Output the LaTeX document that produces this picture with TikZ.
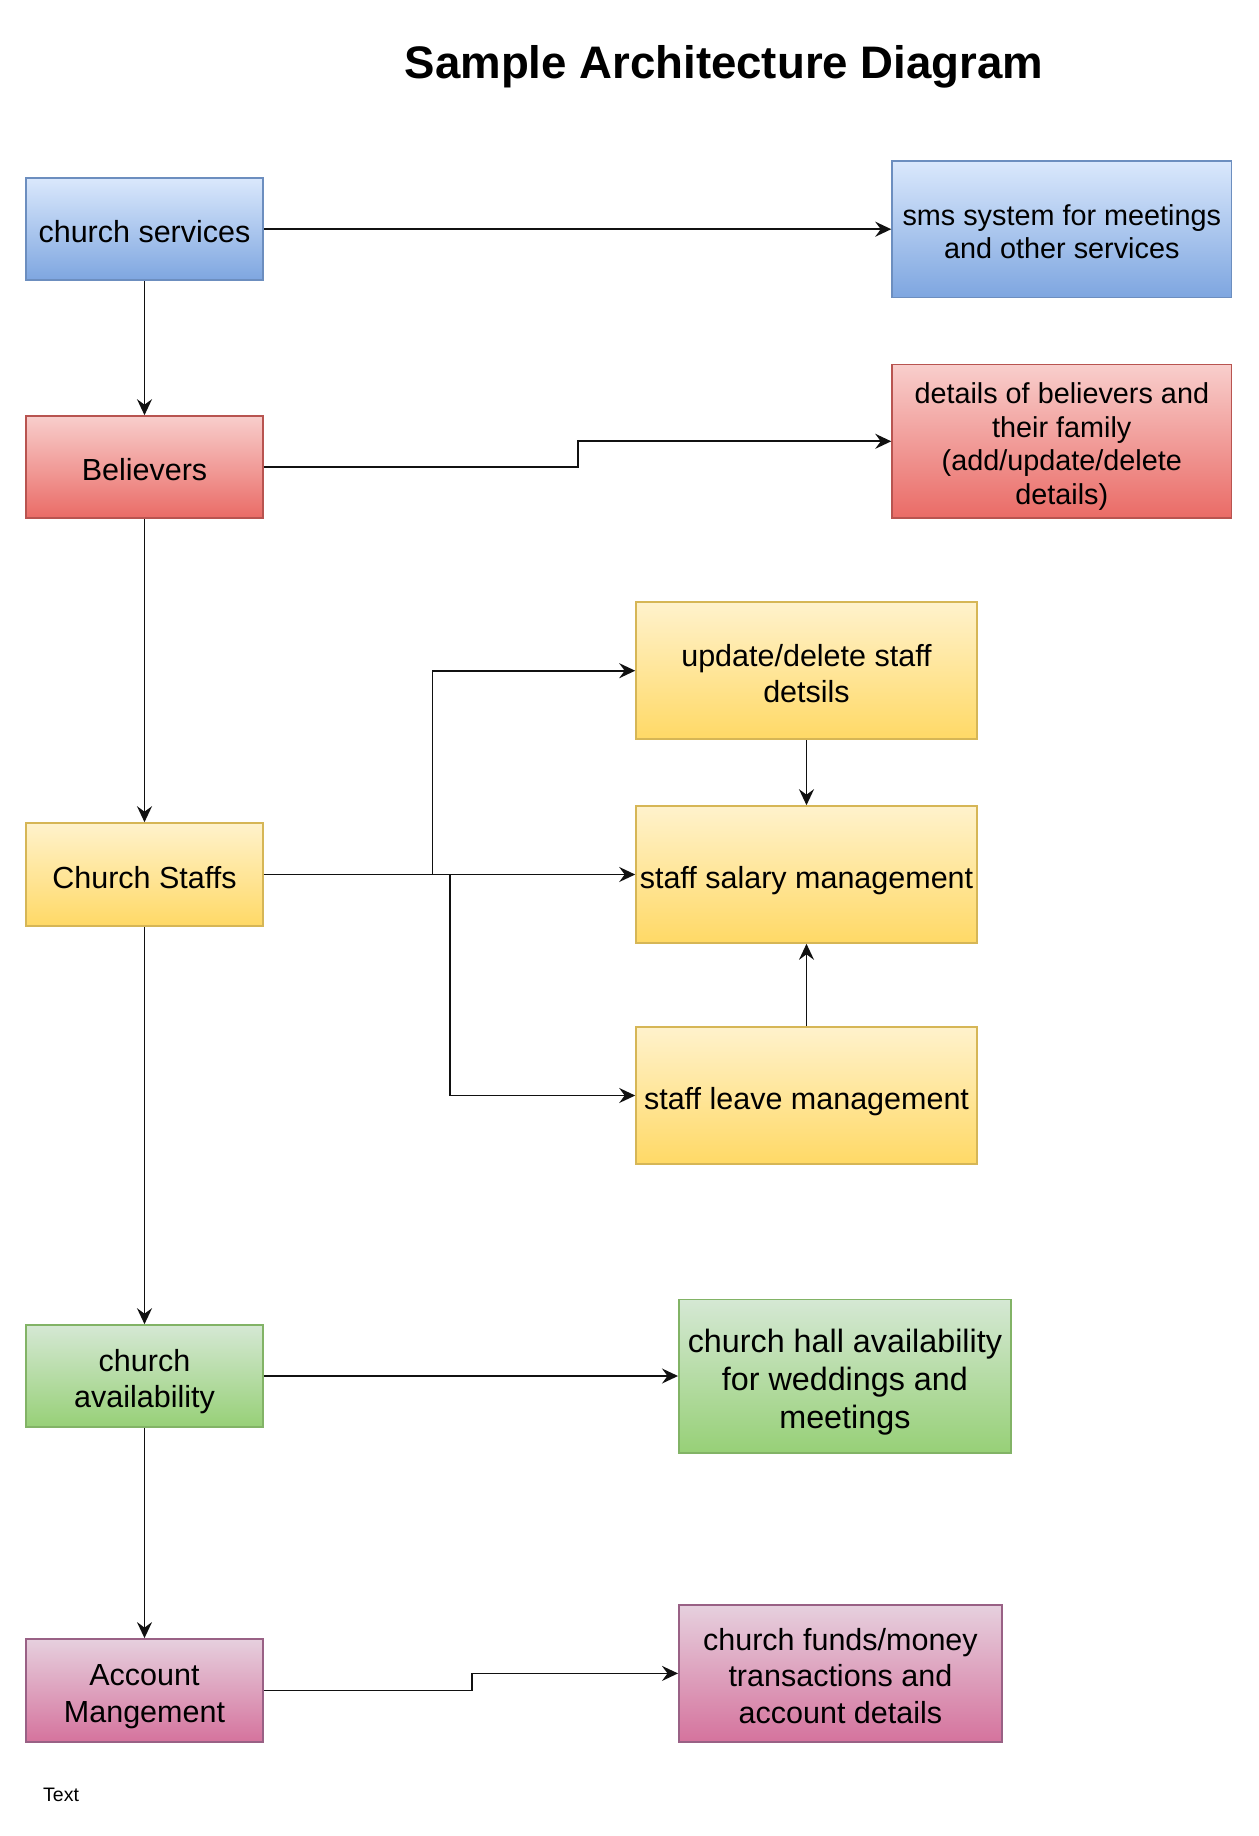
\documentclass[tikz,border=0pt]{standalone}
\usepackage{fontspec}
\setmainfont{Liberation Sans}
\usetikzlibrary{arrows.meta}
\definecolor{bluetop}{HTML}{DAE8FC}\definecolor{bluebot}{HTML}{7EA6E0}\definecolor{bluedraw}{HTML}{6C8EBF}
\definecolor{redtop}{HTML}{F8CECC}\definecolor{redbot}{HTML}{EA6B66}\definecolor{reddraw}{HTML}{B85450}
\definecolor{yeltop}{HTML}{FFF2CC}\definecolor{yelbot}{HTML}{FFD966}\definecolor{yeldraw}{HTML}{D6B656}
\definecolor{grntop}{HTML}{D5E8D4}\definecolor{grnbot}{HTML}{97D077}\definecolor{grndraw}{HTML}{82B366}
\definecolor{pnktop}{HTML}{E6D0DE}\definecolor{pnkbot}{HTML}{D5739D}\definecolor{pnkdraw}{HTML}{996185}
\definecolor{edgec}{HTML}{111111}
% \rule[raise]{width}{total height}: struts from -0.21em up to 0.953em (other lines) / 1.1em (first line)
\newcommand\ls{\rule[-0.21em]{0pt}{1.163em}}
\newcommand\lf{\rule[-0.21em]{0pt}{1.31em}}
\begin{document}
\begin{tikzpicture}[x=1pt,y=-1pt,
  box/.style={rectangle, line width=1.6pt, align=center, inner sep=0pt,
    font=\fontsize{30.5}{35.47}\selectfont, text=black},
  smallf/.style={font=\fontsize{28.8}{33.5}\selectfont},
  bigf/.style={font=\fontsize{32.3}{37.57}\selectfont},
  bluebox/.style={box, draw=bluedraw, top color=bluetop, bottom color=bluebot},
  redbox/.style={box, draw=reddraw, top color=redtop, bottom color=redbot},
  yelbox/.style={box, draw=yeldraw, top color=yeltop, bottom color=yelbot},
  grnbox/.style={box, draw=grndraw, top color=grntop, bottom color=grnbot},
  pnkbox/.style={box, draw=pnkdraw, top color=pnktop, bottom color=pnkbot},
  leftbox/.style={minimum width=237pt, minimum height=102pt},
  arr/.style={draw=edgec, line width=1.7pt, -{Stealth[length=16pt,width=15pt,inset=5.5pt]}}
]
\useasboundingbox (0,0) rectangle (1258,1836);
\fill[white] (0,0) rectangle (1258,1836);

\node[anchor=base, font=\bfseries\fontsize{45.6}{50}\selectfont] (title) at (724,78.5) {Sample Architecture Diagram};

% left column
\node[bluebox, leftbox] (cs) at (144.5,229.2) {\lf church services};
\node[redbox, leftbox] (bel) at (144.5,467) {\lf Believers};
\node[yelbox, leftbox, minimum height=103pt] (staff) at (144.5,874.5) {\lf Church Staffs};
\node[grnbox, leftbox] (avail) at (144.5,1376) {\lf church\\\ls availability};
\node[pnkbox, leftbox, minimum height=103pt] (acc) at (144.5,1690.4) {\lf Account\\\ls Mangement};

% right column
\node[bluebox, smallf, minimum width=339.5pt, minimum height=136.6pt] (sms) at (1061.8,229) {\lf sms system for meetings\\\ls and other services};
\node[redbox, smallf, minimum width=339.5pt, minimum height=153.3pt] (det) at (1061.8,441.3) {\lf details of believers and\\\ls their family\\\ls (add/update/delete\\\ls details)};
\node[yelbox, minimum width=341pt, minimum height=137pt] (upd) at (806.5,670.7) {\lf update/delete staff\\\ls detsils};
\node[yelbox, minimum width=341pt, minimum height=137pt] (sal) at (806.5,874.5) {\lf staff salary management};
\node[yelbox, minimum width=341pt, minimum height=137pt] (leave) at (806.5,1095.5) {\lf staff leave management};
\node[grnbox, bigf, minimum width=332.2pt, minimum height=153.6pt] (hall) at (844.9,1376.1) {\lf church hall availability\\\ls for weddings and\\\ls meetings};
\node[pnkbox, minimum width=323.2pt, minimum height=136.8pt] (funds) at (840.4,1673.4) {\lf church funds/money\\\ls transactions and\\\ls account details};

\node[anchor=base west, inner sep=0pt, font=\fontsize{19.5}{22}\selectfont] (txt) at (43,1801) {Text};

% connectors
\draw[arr] (cs.east) -- (sms.west |- cs.east);
\draw[arr] (cs.south) -- (bel.north);
\draw[arr] (bel.south) -- (staff.north);
\draw[arr] (staff.south) -- (avail.north);
\draw[arr] (avail.south) -- (acc.north);

\coordinate (s1) at (577.7,467);
\draw[arr] (bel.east) -- (s1) |- (det.west);

\coordinate (b1) at (432.5,874.5);
\coordinate (b2) at (450,874.5);
\draw[arr] (staff.east) -- (b1) |- (upd.west);
\draw[arr] (staff.east) -- (sal.west);
\draw[arr] (staff.east) -- (b2) |- (leave.west);
\draw[arr] (upd.south) -- (sal.north);
\draw[arr] (leave.north) -- (sal.south);

\draw[arr] (avail.east) -- (hall.west |- avail.east);

\coordinate (s2) at (471.8,1690.4);
\draw[arr] (acc.east) -- (s2) |- (funds.west);
\end{tikzpicture}
\end{document}
